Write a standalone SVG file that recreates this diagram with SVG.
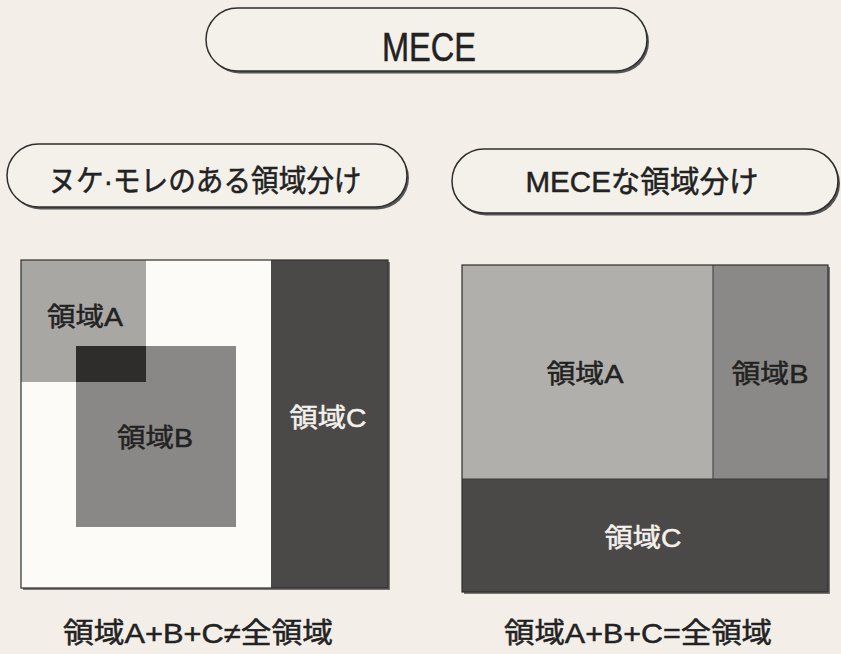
<svg xmlns="http://www.w3.org/2000/svg" width="841" height="654" viewBox="0 0 841 654">
<defs>
<style>
.t{font-family:"Liberation Sans","Noto Sans CJK JP",sans-serif;fill:#222;stroke:#222;stroke-width:0.5;text-anchor:middle}
.tw{fill:#f4f1ec;stroke:#f4f1ec}
.pill{fill:#f4f1eb;stroke:#2e2e2e;stroke-width:1.5}
.sh{fill:#555}
.edge{fill:none;stroke:#2e2e2e;stroke-width:1.2}
</style>
</defs>
<rect x="0" y="0" width="841" height="654" fill="#f3efe8"/>

<g id="mece">
<rect class="sh" x="208" y="10.5" width="441" height="63" rx="31.5"/>
<rect class="pill" x="206" y="8" width="441" height="63" rx="31.5"/>
<text class="t" x="429" y="61" font-size="40" textLength="94" lengthAdjust="spacingAndGlyphs">MECE</text>
</g>

<g id="nuke-more">
<rect class="sh" x="9" y="146.5" width="400" height="63" rx="31.5"/>
<rect class="pill" x="7" y="144" width="400" height="63" rx="31.5"/>
<text class="t" x="205" y="191" font-size="30" textLength="313" lengthAdjust="spacingAndGlyphs">ヌケ·モレのある領域分け</text>
</g>

<g id="mece-split">
<rect class="sh" x="454" y="151.5" width="386" height="64" rx="32"/>
<rect class="pill" x="452" y="149" width="386" height="64" rx="32"/>
<text class="t" x="642" y="192" font-size="30" textLength="233" lengthAdjust="spacingAndGlyphs">MECEな領域分け</text>
</g>

<g id="left-diagram">
<rect x="23" y="262" width="367" height="328" fill="#7a7876"/>
<rect x="21" y="260" width="367" height="328" fill="#fcfbf8"/>
<rect x="21" y="260" width="125" height="122" fill="#a9a7a4"/>
<rect x="76" y="346" width="160" height="181" fill="#8a8886"/>
<rect x="76" y="346" width="70" height="36" fill="#2f2d2c"/>
<rect x="271" y="260" width="117" height="328" fill="#4b4948"/>
<rect class="edge" x="21" y="260" width="367" height="328"/>
<text class="t" x="85" y="326" font-size="26" textLength="76" lengthAdjust="spacingAndGlyphs">領域A</text>
<text class="t" x="155" y="447" font-size="26" textLength="76" lengthAdjust="spacingAndGlyphs">領域B</text>
<text class="t tw" x="328" y="427" font-size="26" textLength="77" lengthAdjust="spacingAndGlyphs">領域C</text>
<text class="t" x="198" y="643" font-size="28" textLength="270" lengthAdjust="spacingAndGlyphs">領域A+B+C≠全領域</text>
</g>

<g id="right-diagram">
<rect x="464" y="267" width="366" height="327" fill="#7a7876"/>
<rect x="462" y="265" width="251" height="214" fill="#b1afac"/>
<rect x="713" y="265" width="115" height="214" fill="#8b8987"/>
<rect x="462" y="479" width="366" height="113" fill="#4b4948"/>
<line x1="713" y1="265" x2="713" y2="479" stroke="#3a3a3a" stroke-width="1"/>
<line x1="462" y1="479" x2="828" y2="479" stroke="#3a3a3a" stroke-width="1"/>
<rect class="edge" x="462" y="265" width="366" height="327"/>
<text class="t" x="585" y="383" font-size="26" textLength="77" lengthAdjust="spacingAndGlyphs">領域A</text>
<text class="t" x="770" y="383" font-size="26" textLength="77" lengthAdjust="spacingAndGlyphs">領域B</text>
<text class="t tw" x="643" y="547" font-size="26" textLength="77" lengthAdjust="spacingAndGlyphs">領域C</text>
<text class="t" x="638" y="643" font-size="28" textLength="268" lengthAdjust="spacingAndGlyphs">領域A+B+C=全領域</text>
</g>
</svg>
